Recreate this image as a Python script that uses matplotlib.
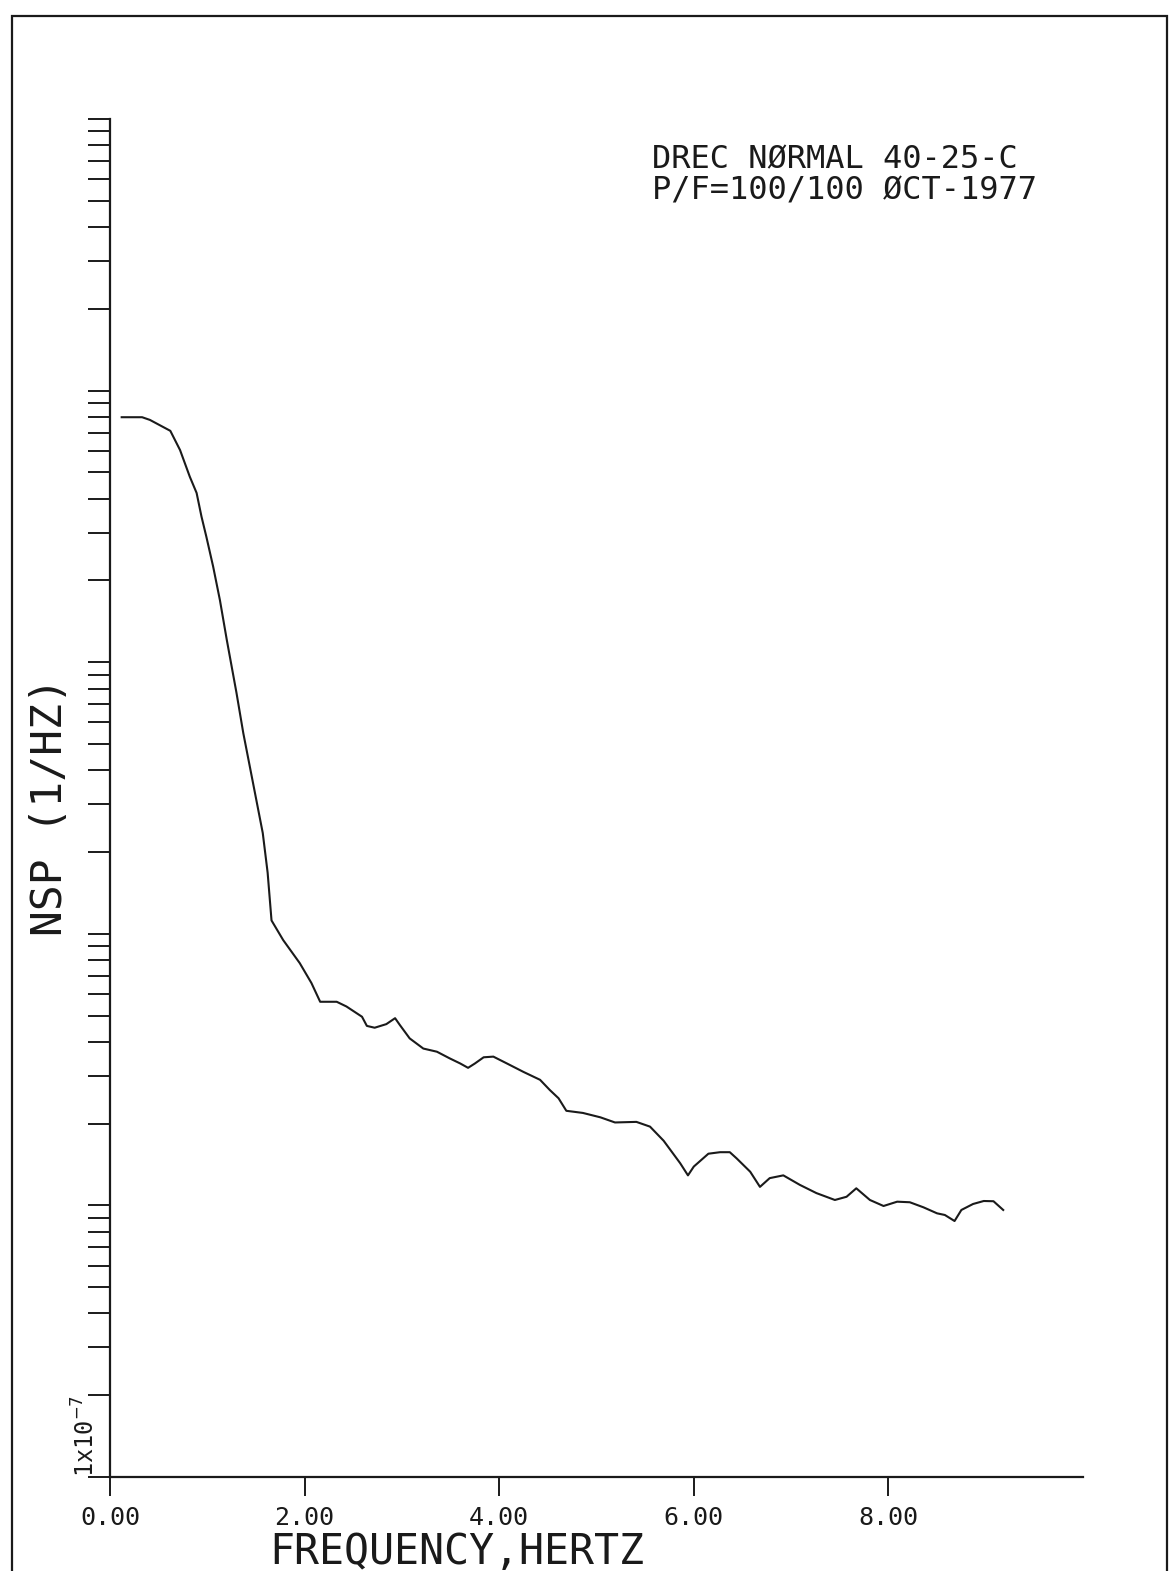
import matplotlib.pyplot as plt
import numpy as np
from matplotlib.patches import Rectangle
from matplotlib.ticker import LogLocator, NullFormatter

# normalized spectral power
freq = [0.12, 0.33, 0.41, 0.62, 0.72, 0.82, 0.89, 0.94, 0.99, 1.06,
        1.13, 1.20, 1.30, 1.37, 1.47, 1.57, 1.62, 1.66, 1.78, 1.95,
        2.07, 2.16, 2.33, 2.43, 2.59, 2.64, 2.72, 2.84, 2.93, 2.98,
        3.08, 3.22, 3.36, 3.49, 3.60, 3.68, 3.75, 3.84, 3.94, 4.08,
        4.25, 4.42, 4.52, 4.61, 4.69, 4.86, 5.04, 5.19, 5.41, 5.55,
        5.69, 5.86, 5.94, 6.00, 6.15, 6.27, 6.37, 6.44, 6.58, 6.68,
        6.78, 6.92, 7.09, 7.26, 7.45, 7.57, 7.67, 7.81, 7.95, 8.09,
        8.22, 8.36, 8.50, 8.58, 8.68, 8.75, 8.87, 8.98, 9.08, 9.18]
nsp = [7.98e-4, 7.98e-4, 7.80e-4, 7.11e-4, 6.04e-4, 4.82e-4, 4.20e-4, 3.44e-4, 2.90e-4, 2.25e-4,
       1.69e-4, 1.21e-4, 7.71e-5, 5.48e-5, 3.59e-5, 2.35e-5, 1.68e-5, 1.12e-5, 9.48e-6, 7.80e-6,
       6.59e-6, 5.62e-6, 5.62e-6, 5.40e-6, 4.95e-6, 4.58e-6, 4.51e-6, 4.65e-6, 4.89e-6, 4.61e-6,
       4.12e-6, 3.78e-6, 3.68e-6, 3.48e-6, 3.33e-6, 3.21e-6, 3.33e-6, 3.51e-6, 3.53e-6, 3.33e-6,
       3.10e-6, 2.90e-6, 2.66e-6, 2.48e-6, 2.23e-6, 2.19e-6, 2.11e-6, 2.02e-6, 2.03e-6, 1.95e-6,
       1.73e-6, 1.43e-6, 1.29e-6, 1.39e-6, 1.55e-6, 1.57e-6, 1.57e-6, 1.49e-6, 1.33e-6, 1.17e-6,
       1.26e-6, 1.29e-6, 1.19e-6, 1.11e-6, 1.047e-6, 1.076e-6, 1.156e-6, 1.047e-6, 9.95e-7, 1.032e-6,
       1.027e-6, 9.84e-7, 9.35e-7, 9.22e-7, 8.76e-7, 9.62e-7, 1.012e-6, 1.038e-6, 1.036e-6, 9.62e-7]

xticks = [0, 2, 4, 6, 8]
xlabels = ["0.00", "2.00", "4.00", "6.00", "8.00"]

W, H = 1175, 1571
mono = "DejaVu Sans Mono"
ink = "#1a1a1a"

fig = plt.figure(figsize=(W / 100, H / 100), dpi=100)
ax = fig.add_axes([110 / W, 1 - 1477 / H, (1083 - 110) / W, (1477 - 119) / H])

ax.plot(freq, nsp, color=ink, lw=1.5)

ax.set_yscale("log")
ax.set_ylim(1e-7, 1e-2)
ax.set_xlim(0, 10)
ax.spines["top"].set_visible(False)
ax.spines["right"].set_visible(False)
for s in ["left", "bottom"]:
    ax.spines[s].set_linewidth(1.6)
    ax.spines[s].set_color(ink)

ax.yaxis.set_major_locator(LogLocator(base=10, numticks=10))
ax.yaxis.set_minor_locator(LogLocator(base=10, subs=np.arange(2, 10), numticks=20))
ax.yaxis.set_major_formatter(NullFormatter())
ax.yaxis.set_minor_formatter(NullFormatter())
ax.tick_params(axis="y", which="both", direction="out", length=16, width=1.4, color=ink)

ax.set_xticks(xticks)
ax.set_xticklabels(xlabels, family=mono, fontsize=18, color=ink)
ax.tick_params(axis="x", direction="out", length=14, width=1.4, color=ink, pad=7)

# texts placed in figure pixels
fig.text(50 / W, 1 - 807 / H, "NSP (1/HZ)", rotation=90, ha="center", va="center",
         family=mono, fontsize=31, color=ink)
fig.text(86 / W, 1 - 1477 / H, "1x10$^{-7}$", rotation=90, ha="center", va="bottom",
         family=mono, fontsize=17, color=ink)
fig.text(457 / W, 1 - 1552 / H, "FREQUENCY,HERTZ", ha="center", va="center",
         family=mono, fontsize=30, color=ink)
fig.text(652 / W, 1 - 160 / H, "DREC NØRMAL 40-25-C", ha="left", va="center",
         family=mono, fontsize=23, color=ink)
fig.text(652 / W, 1 - 191 / H, "P/F=100/100 ØCT-1977", ha="left", va="center",
         family=mono, fontsize=23, color=ink)

# sheet border
fig.add_artist(Rectangle((12 / W, -0.01), (1167 - 12) / W, 1.01 - 16 / H,
                         transform=fig.transFigure, fill=False, lw=1.6, color=ink))

fig.savefig("out.png", dpi=100)
